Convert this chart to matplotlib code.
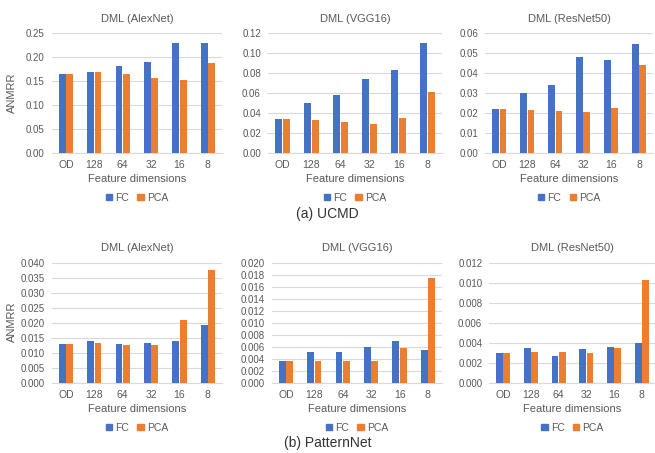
import numpy as np
import matplotlib.pyplot as plt
from matplotlib.patches import Patch

# === Data ===
dims = ['OD', '128', '64', '32', '16', '8']
titles = ['DML (AlexNet)', 'DML (VGG16)', 'DML (ResNet50)']

ucmd_alex_fc = [0.165, 0.169, 0.181, 0.190, 0.229, 0.229]
ucmd_alex_pca = [0.165, 0.168, 0.164, 0.155, 0.151, 0.186]
ucmd_vgg_fc = [0.034, 0.050, 0.058, 0.074, 0.083, 0.110]
ucmd_vgg_pca = [0.034, 0.033, 0.031, 0.029, 0.035, 0.061]
ucmd_res_fc = [0.022, 0.030, 0.034, 0.048, 0.0465, 0.0545]
ucmd_res_pca = [0.022, 0.0217, 0.0212, 0.0207, 0.0223, 0.044]

pn_alex_fc = [0.0129, 0.0141, 0.0130, 0.0134, 0.0139, 0.0191]
pn_alex_pca = [0.0129, 0.0133, 0.0127, 0.0126, 0.0210, 0.0375]
pn_vgg_fc = [0.0037, 0.0051, 0.0051, 0.0059, 0.0070, 0.0054]
pn_vgg_pca = [0.0037, 0.0037, 0.0036, 0.0036, 0.0058, 0.0175]
pn_res_fc = [0.0030, 0.0035, 0.0027, 0.0034, 0.0036, 0.0040]
pn_res_pca = [0.0030, 0.0031, 0.0031, 0.0030, 0.0035, 0.0103]

# === Style ===
FC_COLOR = '#4472C4'
PCA_COLOR = '#ED7D31'
TEXT_COLOR = '#595959'
GRID_COLOR = '#D9D9D9'
plt.rcParams['font.family'] = ['Liberation Sans', 'DejaVu Sans']

fig = plt.figure(figsize=(6.55, 4.53), dpi=100)

rows = [
    # (fc, pca, ymax, step, fmt)
    [(ucmd_alex_fc, ucmd_alex_pca, 0.25, 0.05, '%.2f'),
     (ucmd_vgg_fc, ucmd_vgg_pca, 0.12, 0.02, '%.2f'),
     (ucmd_res_fc, ucmd_res_pca, 0.06, 0.01, '%.2f')],
    [(pn_alex_fc, pn_alex_pca, 0.040, 0.005, '%.3f'),
     (pn_vgg_fc, pn_vgg_pca, 0.020, 0.002, '%.3f'),
     (pn_res_fc, pn_res_pca, 0.012, 0.002, '%.3f')],
]
lefts = [[0.079, 0.409, 0.741], [0.079, 0.415, 0.747]]
widths = [[0.260, 0.266, 0.256], [0.260, 0.260, 0.254]]
bottoms = [0.662, 0.1545]
height = 0.266
captions = ['(a) UCMD', '(b) PatternNet']
caption_y = [0.528, 0.022]
ylabel_y = [0.795, 0.29]

x = np.arange(len(dims))
bw = 0.24
for r, row in enumerate(rows):
    for c, (fc, pca, ymax, step, fmt) in enumerate(row):
        ax = fig.add_axes([lefts[r][c], bottoms[r], widths[r][c], height])
        ax.bar(x - bw / 2 - 0.01, fc, bw, color=FC_COLOR, zorder=3)
        ax.bar(x + bw / 2 + 0.01, pca, bw, color=PCA_COLOR, zorder=3)
        ax.set_xlim(-0.5, len(dims) - 0.5)
        ax.set_ylim(0, ymax)
        ticks = np.arange(0, ymax + step / 2, step)
        ax.set_yticks(ticks)
        ax.set_yticklabels([fmt % t for t in ticks])
        ax.set_xticks(x)
        ax.set_xticklabels(dims)
        ax.grid(axis='y', color=GRID_COLOR, linewidth=0.8, zorder=0)
        for s in ['top', 'right', 'left']:
            ax.spines[s].set_visible(False)
        ax.spines['bottom'].set_color(GRID_COLOR)
        ax.tick_params(axis='y', length=0, labelsize=7, colors=TEXT_COLOR, pad=5)
        ax.tick_params(axis='x', length=0, labelsize=7.5, colors=TEXT_COLOR, pad=5)
        ax.set_title(titles[c], fontsize=8, color=TEXT_COLOR, pad=8)
        ax.set_xlabel('Feature dimensions', fontsize=8, color=TEXT_COLOR, labelpad=3)
        handles = [Patch(color=FC_COLOR, label='FC'), Patch(color=PCA_COLOR, label='PCA')]
        ax.legend(handles=handles, loc='upper center', bbox_to_anchor=(0.5, -0.25),
                  ncol=2, frameon=False, fontsize=7.5, handlelength=0.6, handleheight=0.6,
                  handletextpad=0.3, columnspacing=0.8, labelcolor=TEXT_COLOR)
    fig.text(0.018, ylabel_y[r], 'ANMRR', rotation=90, ha='center', va='center',
             fontsize=8, color=TEXT_COLOR)
    fig.text(0.5, caption_y[r], captions[r], ha='center', va='center',
             fontsize=10, color='#333333')

fig.savefig('out.png', dpi=100)
